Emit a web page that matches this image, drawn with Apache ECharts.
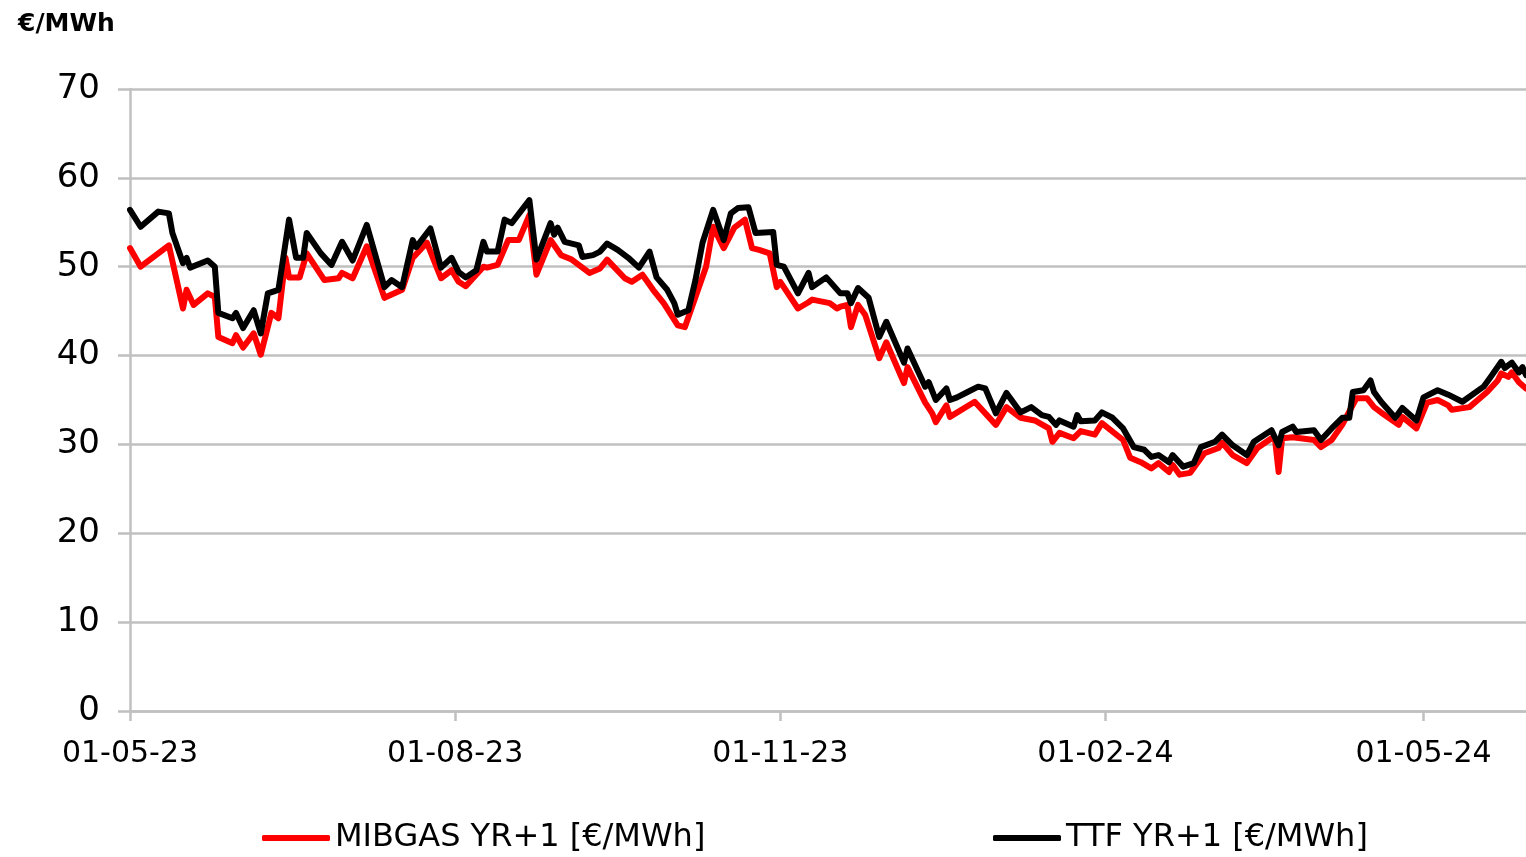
<!DOCTYPE html>
<html>
<head>
<meta charset="utf-8">
<script src="https://cdn.jsdelivr.net/npm/echarts@6/dist/echarts.min.js"></script>
<style>
  html, body { margin: 0; padding: 0; background: #fff; }
  #chart { width: 1526px; height: 857px; }
</style>
</head>
<body>
<div id="chart"></div>
<script>
// TTF YR+1
var ttfDates = [
  '2023-05-01','2023-05-04','2023-05-09','2023-05-12','2023-05-13','2023-05-16','2023-05-17','2023-05-18',
  '2023-05-23','2023-05-25','2023-05-26','2023-05-30','2023-05-31','2023-06-02','2023-06-05','2023-06-07',
  '2023-06-09','2023-06-12','2023-06-15','2023-06-17','2023-06-19','2023-06-20','2023-06-24','2023-06-27',
  '2023-06-30','2023-07-03','2023-07-07','2023-07-12','2023-07-14','2023-07-17','2023-07-20','2023-07-21',
  '2023-07-25','2023-07-28','2023-07-31','2023-08-02','2023-08-04','2023-08-07','2023-08-09','2023-08-10',
  '2023-08-13','2023-08-15','2023-08-17','2023-08-22','2023-08-24','2023-08-28','2023-08-29','2023-08-30',
  '2023-09-01','2023-09-05','2023-09-06','2023-09-09','2023-09-11','2023-09-13','2023-09-16','2023-09-19',
  '2023-09-22','2023-09-25','2023-09-27','2023-09-30','2023-10-02','2023-10-03','2023-10-06','2023-10-08',
  '2023-10-10','2023-10-13','2023-10-16','2023-10-18','2023-10-20','2023-10-23','2023-10-25','2023-10-30',
  '2023-10-31','2023-11-02','2023-11-06','2023-11-09','2023-11-10','2023-11-14','2023-11-18','2023-11-20',
  '2023-11-21','2023-11-23','2023-11-26','2023-11-29','2023-12-01','2023-12-06','2023-12-07','2023-12-12',
  '2023-12-13','2023-12-15','2023-12-18','2023-12-19','2023-12-21','2023-12-24','2023-12-27','2023-12-29',
  '2024-01-01','2024-01-04','2024-01-08','2024-01-11','2024-01-14','2024-01-16','2024-01-18','2024-01-19',
  '2024-01-23','2024-01-24','2024-01-25','2024-01-29','2024-01-31','2024-02-03','2024-02-06','2024-02-09',
  '2024-02-12','2024-02-14','2024-02-16','2024-02-19','2024-02-20','2024-02-23','2024-02-26','2024-02-28',
  '2024-03-03','2024-03-05','2024-03-08','2024-03-12','2024-03-14','2024-03-19','2024-03-21','2024-03-22',
  '2024-03-25','2024-03-26','2024-03-31','2024-04-02','2024-04-05','2024-04-08','2024-04-10','2024-04-11',
  '2024-04-14','2024-04-16','2024-04-17','2024-04-19','2024-04-23','2024-04-25','2024-04-29','2024-05-01',
  '2024-05-05','2024-05-08','2024-05-12','2024-05-18','2024-05-20','2024-05-23','2024-05-24','2024-05-26',
  '2024-05-28','2024-05-29','2024-05-30'
];
var ttfValues = [
  56.4, 54.5, 56.2, 56.0, 53.8, 50.4, 51.0, 49.9,
  50.7, 50.0, 44.8, 44.2, 44.8, 43.1, 45.1, 42.5,
  47.0, 47.4, 55.3, 51.0, 51.0, 53.8, 51.5, 50.2,
  52.8, 50.7, 54.7, 47.7, 48.5, 47.7, 53.0, 52.2,
  54.3, 49.9, 51.0, 49.4, 48.8, 49.6, 52.8, 51.7,
  51.7, 55.3, 54.9, 57.5, 50.8, 54.9, 53.6, 54.4,
  52.8, 52.4, 51.1, 51.3, 51.7, 52.6, 51.9, 51.0,
  49.9, 51.7, 48.8, 47.4, 45.9, 44.6, 45.1, 48.5,
  52.7, 56.4, 53.0, 56.0, 56.6, 56.7, 53.8, 53.9,
  50.2, 50.0, 47.0, 49.3, 47.7, 48.8, 47.0, 47.0,
  45.9, 47.6, 46.5, 42.1, 43.8, 39.2, 40.8, 36.5,
  37.0, 35.0, 36.3, 35.0, 35.3, 35.9, 36.5, 36.3,
  33.5, 35.8, 33.6, 34.2, 33.3, 33.1, 32.2, 32.7,
  32.0, 33.3, 32.6, 32.7, 33.6, 33.0, 31.8, 29.7,
  29.4, 28.6, 28.8, 28.0, 28.8, 27.5, 27.9, 29.7,
  30.3, 31.1, 29.9, 28.8, 30.3, 31.6, 29.9, 31.4,
  32.0, 31.4, 31.6, 30.5, 31.8, 33.0, 33.0, 35.9,
  36.1, 37.2, 35.9, 34.8, 33.0, 34.1, 32.7, 35.3,
  36.1, 35.6, 34.8, 36.5, 37.6, 39.3, 38.6, 39.2,
  38.1, 38.7, 37.8
];

// MIBGAS YR+1
var mibgasDates = [
  '2023-05-01','2023-05-04','2023-05-09','2023-05-12','2023-05-16','2023-05-17','2023-05-19','2023-05-23',
  '2023-05-25','2023-05-26','2023-05-30','2023-05-31','2023-06-02','2023-06-05','2023-06-07','2023-06-10',
  '2023-06-12','2023-06-14','2023-06-15','2023-06-18','2023-06-20','2023-06-25','2023-06-29','2023-06-30',
  '2023-07-03','2023-07-07','2023-07-12','2023-07-17','2023-07-20','2023-07-24','2023-07-28','2023-07-31',
  '2023-08-02','2023-08-04','2023-08-09','2023-08-10','2023-08-13','2023-08-16','2023-08-19','2023-08-22',
  '2023-08-24','2023-08-28','2023-08-31','2023-09-03','2023-09-08','2023-09-11','2023-09-13','2023-09-18',
  '2023-09-20','2023-09-23','2023-09-26','2023-09-29','2023-10-03','2023-10-05','2023-10-11','2023-10-13',
  '2023-10-16','2023-10-19','2023-10-22','2023-10-24','2023-10-26','2023-10-29','2023-10-31','2023-11-01',
  '2023-11-06','2023-11-09','2023-11-10','2023-11-15','2023-11-17','2023-11-18','2023-11-20','2023-11-21',
  '2023-11-23','2023-11-25','2023-11-29','2023-12-01','2023-12-06','2023-12-07','2023-12-12','2023-12-14',
  '2023-12-15','2023-12-18','2023-12-19','2023-12-26','2024-01-01','2024-01-04','2024-01-08','2024-01-12',
  '2024-01-16','2024-01-17','2024-01-19','2024-01-23','2024-01-25','2024-01-29','2024-01-31','2024-02-06',
  '2024-02-08','2024-02-11','2024-02-14','2024-02-16','2024-02-19','2024-02-20','2024-02-22','2024-02-25',
  '2024-02-29','2024-03-04','2024-03-05','2024-03-08','2024-03-12','2024-03-15','2024-03-19','2024-03-20',
  '2024-03-21','2024-03-22','2024-03-25','2024-03-31','2024-04-02','2024-04-05','2024-04-08','2024-04-12',
  '2024-04-15','2024-04-17','2024-04-19','2024-04-24','2024-04-25','2024-04-29','2024-05-02','2024-05-05',
  '2024-05-08','2024-05-09','2024-05-14','2024-05-19','2024-05-22','2024-05-23','2024-05-25','2024-05-26',
  '2024-05-28','2024-05-30'
];
var mibgasValues = [
  52.1, 50.0, 51.5, 52.4, 45.3, 47.4, 45.7, 47.0,
  46.6, 42.1, 41.4, 42.3, 40.9, 42.5, 40.1, 44.8,
  44.2, 51.0, 48.8, 48.8, 51.5, 48.5, 48.7, 49.3,
  48.7, 52.3, 46.5, 47.4, 51.0, 52.7, 48.7, 49.6,
  48.3, 47.8, 50.0, 49.9, 50.2, 53.0, 53.0, 55.8,
  49.1, 53.0, 51.3, 50.8, 49.3, 49.8, 50.8, 48.7,
  48.3, 49.1, 47.4, 45.9, 43.4, 43.2, 50.0, 54.5,
  52.1, 54.4, 55.3, 52.1, 51.9, 51.5, 47.7, 48.3,
  45.3, 46.0, 46.3, 45.9, 45.3, 45.5, 45.7, 43.2,
  45.7, 44.6, 39.7, 41.5, 36.9, 38.7, 34.7, 33.5,
  32.5, 34.4, 33.1, 34.8, 32.2, 34.2, 33.0, 32.7,
  31.8, 30.3, 31.3, 30.7, 31.5, 31.1, 32.4, 30.5,
  28.5, 28.0, 27.3, 27.9, 26.9, 27.7, 26.6, 26.8,
  29.0, 29.6, 30.2, 28.8, 27.9, 29.6, 30.7, 30.5,
  26.9, 30.7, 30.8, 30.5, 29.7, 30.5, 32.2, 35.2,
  35.2, 34.2, 33.6, 32.2, 33.1, 31.8, 34.7, 35.0,
  34.4, 33.9, 34.2, 35.9, 37.2, 38.0, 37.6, 38.1,
  37.0, 36.3
];

var tickDates = ['2023-05-01', '2023-08-01', '2023-11-01', '2024-02-01', '2024-05-01'];

function toTime(s) {
  var p = s.split('-');
  return new Date(+p[0], +p[1] - 1, +p[2]).getTime();
}
function pairs(dates, vals) {
  return dates.map(function (d, i) { return [toTime(d), vals[i]]; });
}
function fmt(t) {
  var d = new Date(t);
  var dd = ('0' + d.getDate()).slice(-2);
  var mm = ('0' + (d.getMonth() + 1)).slice(-2);
  var yy = String(d.getFullYear()).slice(-2);
  return dd + '-' + mm + '-' + yy;
}

var font = 'DejaVu Sans';
var gridGray = '#c0c0c0';
var tickValues = tickDates.map(toTime);

var chart = echarts.init(document.getElementById('chart'));
var option = {
  animation: false,
  backgroundColor: '#fff',
  textStyle: { fontFamily: font },
  title: {
    text: '€/MWh',
    left: 13,
    top: 7,
    textStyle: { fontFamily: font, fontSize: 25, fontWeight: 'bold', color: '#000' }
  },
  grid: { left: 130, right: 0, top: 89, bottom: 146, containLabel: false },
  legend: [
    {
      data: ['MIBGAS YR+1 [€/MWh]'],
      left: 262, top: 822, padding: 0,
      icon: 'roundRect', itemWidth: 68, itemHeight: 6, itemGap: 0,
      textStyle: { fontFamily: font, fontSize: 32, color: '#000' }
    },
    {
      data: ['TTF YR+1 [€/MWh]'],
      left: 993, top: 822, padding: 0,
      icon: 'roundRect', itemWidth: 68, itemHeight: 6, itemGap: 0,
      textStyle: { fontFamily: font, fontSize: 32, color: '#000' }
    }
  ],
  xAxis: {
    type: 'value',
    min: toTime('2023-05-01'),
    max: toTime('2024-05-30'),
    axisLine: { show: true, onZero: false, lineStyle: { color: gridGray, width: 2.5 } },
    axisTick: { show: true, length: 10, customValues: tickValues, lineStyle: { color: gridGray, width: 2.5 } },
    splitLine: { show: false },
    axisLabel: {
      customValues: tickValues,
      formatter: function (v) { return fmt(v); },
      fontFamily: font, fontSize: 30, color: '#000', margin: 28,
      showMinLabel: true, showMaxLabel: true, hideOverlap: false
    }
  },
  yAxis: {
    type: 'value',
    min: 0, max: 70, interval: 10,
    axisLine: { show: true, lineStyle: { color: gridGray, width: 2.5 } },
    axisTick: { show: true, length: 12, lineStyle: { color: gridGray, width: 2.5 } },
    splitLine: { show: true, lineStyle: { color: gridGray, width: 2.5 } },
    axisLabel: { fontFamily: font, fontSize: 34, color: '#000', margin: 30 }
  },
  series: [
    {
      name: 'MIBGAS YR+1 [€/MWh]',
      type: 'line',
      data: pairs(mibgasDates, mibgasValues),
      showSymbol: false,
      symbol: 'none',
      color: '#ff0000',
      lineStyle: { color: '#ff0000', width: 6, cap: 'round', join: 'round' },
      z: 2
    },
    {
      name: 'TTF YR+1 [€/MWh]',
      type: 'line',
      data: pairs(ttfDates, ttfValues),
      showSymbol: false,
      symbol: 'none',
      color: '#000000',
      lineStyle: { color: '#000000', width: 6, cap: 'round', join: 'round' },
      z: 3
    }
  ]
};
chart.setOption(option);
</script>
</body>
</html>
